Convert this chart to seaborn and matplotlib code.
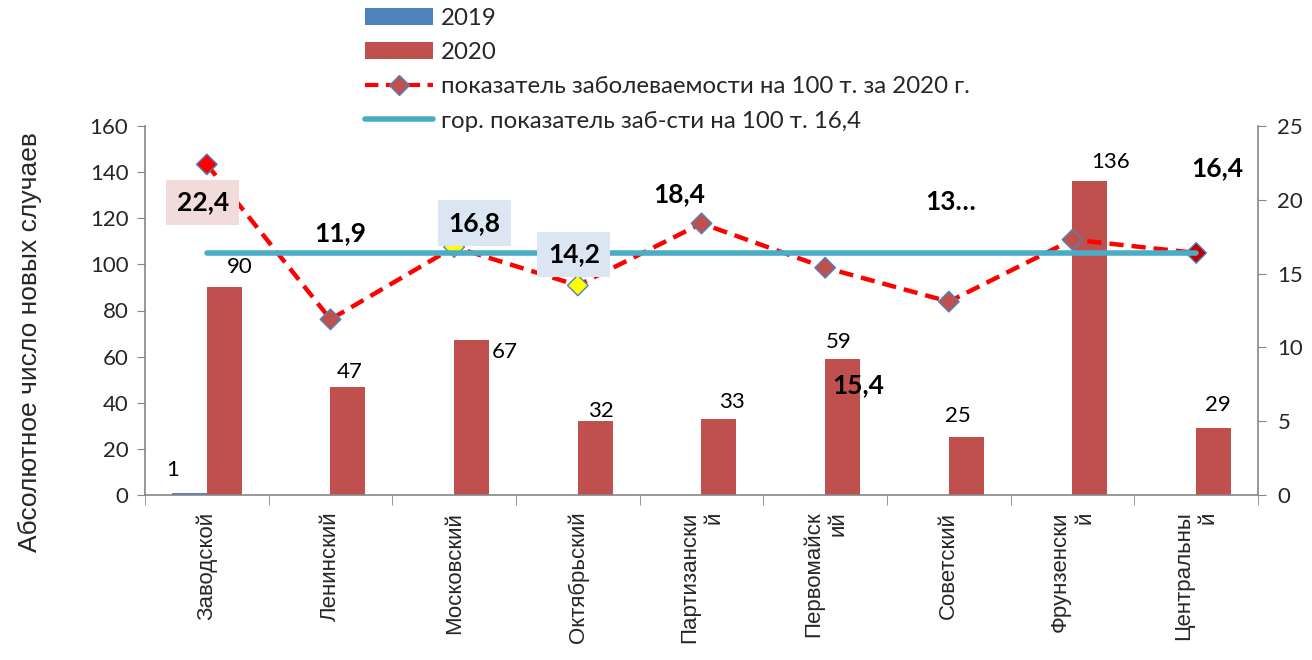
import matplotlib
matplotlib.use("Agg")
import matplotlib.pyplot as plt
import seaborn as sns
import numpy as np
import pandas as pd
from matplotlib.patches import Patch
from matplotlib.lines import Line2D

# ---------------- data ----------------
districts = ["Заводской", "Ленинский", "Московский", "Октябрьский", "Партизанский",
             "Первомайский", "Советский", "Фрунзенский", "Центральный"]
tick_labels = ["Заводской", "Ленинский", "Московский", "Октябрьский", "Партизански\nй",
               "Первомайск\nий", "Советский", "Фрунзенски\nй", "Центральны\nй"]
years = ["2019", "2020"]
cases_2019 = [1, 0, 0, 0, 0, 0, 0, 0, 0]
cases_2020 = [90, 47, 67, 32, 33, 59, 25, 136, 29]
rate_2020 = [22.4, 11.9, 16.8, 14.2, 18.4, 15.4, 13.1, 17.3, 16.4]
city_rate = 16.4
rate_labels = ["22,4", "11,9", "16,8", "14,2", "18,4", "15,4", "13…", None, "16,4"]
bar_labels_2019 = ["1", None, None, None, None, None, None, None, None]
bar_labels_2020 = ["90", "47", "67", "32", "33", "59", "25", "136", "29"]
legend_labels = ["2019", "2020", "показатель заболеваемости на 100 т. за 2020 г.",
                 "гор. показатель заб-сти на 100 т. 16,4"]
y_label = "Абсолютное число новых случаев"
left_ticks = [0, 20, 40, 60, 80, 100, 120, 140, 160]
right_ticks = [0, 5, 10, 15, 20, 25]

# ---------------- styles ----------------
c2019 = "#4F81BD"
c2020 = "#C0504D"
c_rate = "#FF0000"
c_city = "#4BACC6"
marker_colors = ["#FF0000", "#C0504D", "#FFFF00", "#FFFF00", "#C0504D",
                 "#C0504D", "#C0504D", "#C0504D", "#C00000"]
rate_label_bg = ["#F2DCDB", None, "#DCE6F2", "#DCE6F2", None, None, None, None, None]
rate_label_off = [(-4, -38), (10, 86), (20, 24), (-4, 31), (-22, 29), (33, -117),
                  (2, 100), (0, 0), (21, 85)]
bar_off_2019 = [(-17, 23)] + [(0, 0)] * 8
bar_off_2020 = [(15, 20), (2, 15), (33, -12), (6, 10), (13, 17), (-4, 17),
                (-8, 21), (21, 19), (4, 23)]
axis_grey = "#868686"

sns.set_style("white")
plt.rcParams["font.family"] = ["Lato", "DejaVu Sans"]
arial = ["Liberation Sans", "DejaVu Sans"]

fig = plt.figure(figsize=(13.12, 6.6), dpi=100)
W, H = 1312, 660
ax = fig.add_axes([145 / W, 1 - 495 / H, (1258 - 145) / W, (495 - 126) / H])

df = pd.DataFrame({
    "district": districts * 2,
    "year": [years[0]] * len(districts) + [years[1]] * len(districts),
    "cases": cases_2019 + cases_2020,
})
sns.barplot(data=df, x="district", y="cases", hue="year", order=districts,
            hue_order=years, palette=[c2019, c2020], width=0.566, saturation=1,
            legend=False, ax=ax, edgecolor="none")

ax.set_xlim(-0.5, len(districts) - 0.5)
ax.set_ylim(0, 160)
ax.set_yticks(left_ticks)
ax.tick_params(axis="y", which="major", left=True, direction="out", length=6,
               color=axis_grey, labelsize=16, pad=6)

x_pos = np.arange(len(districts))
ax.set_xticks(x_pos)
ax.set_xticklabels(tick_labels, rotation=90, family=arial, fontsize=16,
                   ha="center", va="top", multialignment="right")
ax.tick_params(axis="x", which="major", length=0, pad=12)
ax.set_xticks(np.arange(-0.5, len(districts), 1), minor=True)
ax.tick_params(axis="x", which="minor", bottom=True, direction="out", length=7,
               color=axis_grey)
ax.set_xlabel("")
ax.set_ylabel(y_label, family=arial, fontsize=19)
ax.yaxis.set_label_coords(-0.0925, 0.415)
for s in ["top", "right"]:
    ax.spines[s].set_visible(False)
for s in ["left", "bottom"]:
    ax.spines[s].set_color(axis_grey)
    ax.spines[s].set_linewidth(1.2)

# bar labels
for cont, labels, offs in zip(ax.containers, [bar_labels_2019, bar_labels_2020],
                              [bar_off_2019, bar_off_2020]):
    for bar, lab, off in zip(cont, labels, offs):
        if lab is None:
            continue
        ax.annotate(lab, xy=(bar.get_x() + bar.get_width() / 2, bar.get_height()),
                    xytext=off, textcoords="offset pixels", ha="center",
                    va="center", fontsize=16, color="black")

# secondary axis
ax2 = ax.twinx()
sns.lineplot(x=x_pos, y=rate_2020, ax=ax2, color=c_rate, lw=3.2,
             linestyle=(0, (3.2, 1.8)), zorder=3)
sns.scatterplot(x=x_pos, y=rate_2020, hue=districts, palette=marker_colors,
                marker="D", s=110, edgecolor=c2019, linewidth=1, legend=False,
                ax=ax2, zorder=4)
sns.lineplot(x=x_pos, y=[city_rate] * len(districts), ax=ax2, color=c_city,
             lw=4, zorder=5)
ax2.set_ylim(0, 25)
ax2.set_yticks(right_ticks)
ax2.set_xlim(-0.5, len(districts) - 0.5)
ax2.tick_params(axis="y", right=True, direction="out", length=6, color=axis_grey,
                labelsize=16, pad=8)
ax2.set_ylabel("")
for s in ["top", "left", "bottom"]:
    ax2.spines[s].set_visible(False)
ax2.spines["right"].set_color(axis_grey)
ax2.spines["right"].set_linewidth(1.2)

for xi, yi, lab, bg, off in zip(x_pos, rate_2020, rate_labels, rate_label_bg,
                                rate_label_off):
    if lab is None:
        continue
    kw = {}
    if bg:
        kw["bbox"] = dict(boxstyle="square,pad=0.4", facecolor=bg, edgecolor="none")
    ax2.annotate(lab, xy=(xi, yi), xytext=off, textcoords="offset pixels",
                 ha="center", va="center", fontsize=19, fontweight="bold",
                 color="black", zorder=6, **kw)

# legend
handles = [
    Patch(facecolor=c2019, edgecolor="none"),
    Patch(facecolor=c2020, edgecolor="none"),
    Line2D([0], [0], color=c_rate, lw=3, linestyle=(0, (3.2, 1.8)), marker="D",
           markersize=10, markerfacecolor=c2020, markeredgecolor=c2019),
    Line2D([0], [0], color=c_city, lw=4),
]
fig.legend(handles, legend_labels, loc="upper left",
           bbox_to_anchor=(365 / W, 1 - 8 / H), frameon=False, fontsize=17.3,
           handlelength=2.85, handleheight=0.7, handletextpad=0.3,
           labelspacing=0.55, borderaxespad=0, borderpad=0)

fig.savefig("out.png", dpi=100)
